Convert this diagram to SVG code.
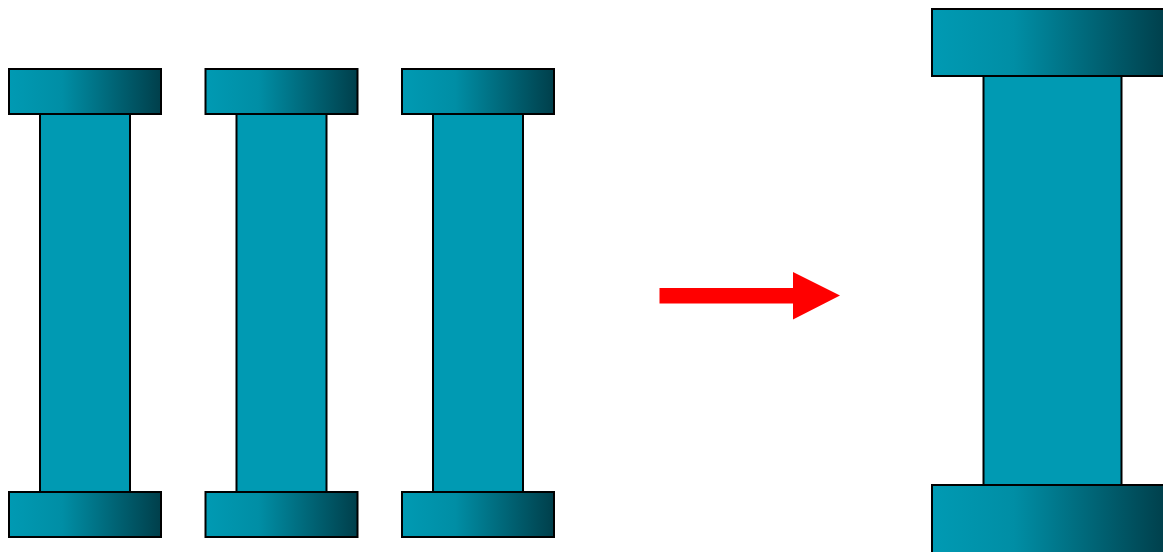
<svg xmlns="http://www.w3.org/2000/svg" width="1163" height="552" viewBox="0 0 1163 552">
  <defs>
    <linearGradient id="capShade" x1="0" y1="0" x2="1" y2="0">
      <stop offset="0" stop-color="#009ab3"/>
      <stop offset="0.35" stop-color="#008ea5"/>
      <stop offset="1" stop-color="#003f4b"/>
    </linearGradient>
    <style>
      .cap { fill: url(#capShade); stroke: #000; stroke-width: 2; }
      .shaft { fill: #009ab3; stroke: #000; stroke-width: 2; }
      .arrow { fill: #ff0000; stroke: none; }
    </style>
  </defs>

  <!-- small column 1 -->
  <g id="column1">
    <rect class="shaft" x="40" y="114" width="90" height="378"/>
    <rect class="cap" x="9" y="69" width="152" height="45"/>
    <rect class="cap" x="9" y="492" width="152" height="45"/>
  </g>

  <!-- small column 2 -->
  <g id="column2">
    <rect class="shaft" x="236.5" y="114" width="90" height="378"/>
    <rect class="cap" x="205.5" y="69" width="152" height="45"/>
    <rect class="cap" x="205.5" y="492" width="152" height="45"/>
  </g>

  <!-- small column 3 -->
  <g id="column3">
    <rect class="shaft" x="433" y="114" width="90" height="378"/>
    <rect class="cap" x="402" y="69" width="152" height="45"/>
    <rect class="cap" x="402" y="492" width="152" height="45"/>
  </g>

  <!-- transformation arrow -->
  <g id="connectors">
    <polygon class="arrow" points="659.5,288 793,288 793,272 840,295.5 793,319.5 793,303.5 659.5,303.5"/>
  </g>

  <!-- large combined column -->
  <g id="bigColumn">
    <rect class="shaft" x="983.5" y="76" width="138" height="409"/>
    <rect class="cap" x="932" y="9" width="234" height="67"/>
    <rect class="cap" x="932" y="485" width="234" height="70"/>
  </g>
</svg>
